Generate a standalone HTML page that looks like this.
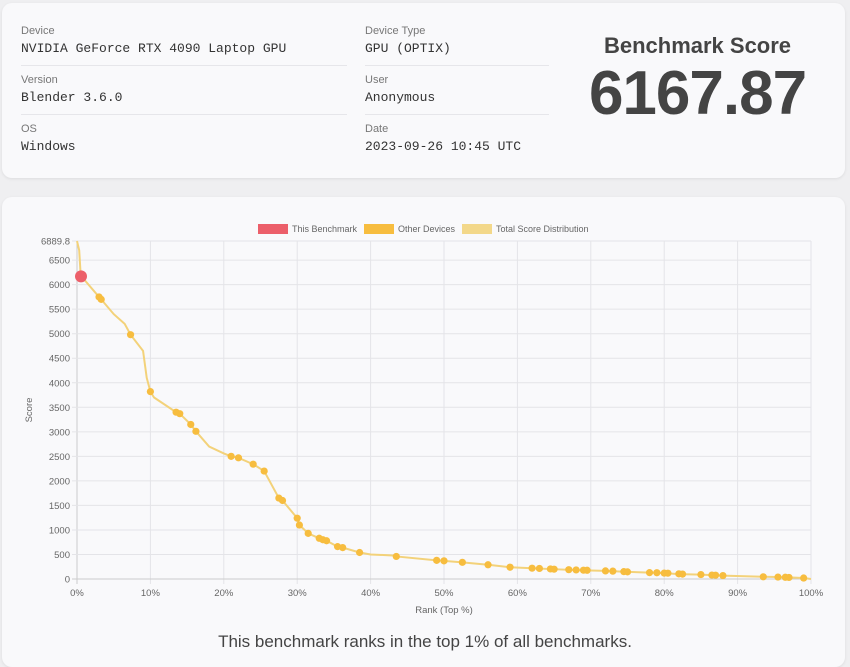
<!DOCTYPE html>
<html><head><meta charset="utf-8"><style>
html,body{margin:0;padding:0;width:850px;height:659px;overflow:hidden;background:#efeff1;font-family:"Liberation Sans",sans-serif}
.card{position:absolute;background:#f9f9fb;border-radius:10px;box-shadow:0 1px 3px rgba(0,0,0,.08)}
.lab{position:absolute;font-size:11px;color:#777}
.val{position:absolute;font-family:"Liberation Mono",monospace;font-size:13px;color:#333}
.sep{position:absolute;height:1px;background:#e6e6ea}
</style></head><body>
<div class="card" style="left:2px;top:3px;width:843px;height:175px"></div>
<div class="lab" style="left:21px;top:25px">Device</div>
<div class="val" style="left:21px;top:41px">NVIDIA GeForce RTX 4090 Laptop GPU</div>
<div class="sep" style="left:21px;top:65px;width:190px"></div>
<div class="sep" style="left:21px;top:65px;width:326px"></div>
<div class="lab" style="left:21px;top:74px">Version</div>
<div class="val" style="left:21px;top:90px">Blender 3.6.0</div>
<div class="sep" style="left:21px;top:114px;width:326px"></div>
<div class="lab" style="left:21px;top:123px">OS</div>
<div class="val" style="left:21px;top:139px">Windows</div>
<div class="lab" style="left:365px;top:25px">Device Type</div>
<div class="val" style="left:365px;top:41px">GPU (OPTIX)</div>
<div class="sep" style="left:365px;top:65px;width:184px"></div>
<div class="lab" style="left:365px;top:74px">User</div>
<div class="val" style="left:365px;top:90px">Anonymous</div>
<div class="sep" style="left:365px;top:114px;width:184px"></div>
<div class="lab" style="left:365px;top:123px">Date</div>
<div class="val" style="left:365px;top:139px">2023-09-26 10:45 UTC</div>
<div style="position:absolute;left:560px;width:275px;top:33px;text-align:center;font-size:22px;font-weight:bold;color:#444">Benchmark Score</div>
<div style="position:absolute;left:560px;width:275px;top:58px;text-align:center;font-size:62px;font-weight:bold;color:#444;letter-spacing:-1px">6167.87</div>
<div class="card" style="left:2px;top:197px;width:843px;height:470px"></div>
<svg id="c" width="850" height="659" style="position:absolute;left:0;top:0" font-family="Liberation Sans, sans-serif"></svg>
<div style="position:absolute;left:0;width:850px;top:632px;text-align:center;font-size:17px;color:#444">This benchmark ranks in the top 1% of all benchmarks.</div>
<script>
var X0=77,X1=811,Y0=579,YT=241,M=6889.8;
function px(p){return X0+(X1-X0)*p/100}function py(v){return Y0-(Y0-YT)*v/M}
var s='';
for(var i=0;i<=10;i++){var x=px(i*10);s+='<line x1="'+x+'" y1="'+YT+'" x2="'+x+'" y2="'+(Y0+5)+'" stroke="'+(i==0?'#ccc':'#e4e4e8')+'"/>';s+='<text x="'+x+'" y="596" font-size="9.5" fill="#666" text-anchor="middle">'+(i*10)+'%</text>';}
var yt=[0,500,1000,1500,2000,2500,3000,3500,4000,4500,5000,5500,6000,6500];
yt.forEach(function(v){var y=py(v);s+='<line x1="'+(X0-5)+'" y1="'+y+'" x2="'+X1+'" y2="'+y+'" stroke="'+(v==0?'#ccc':'#e4e4e8')+'"/>';s+='<text x="70" y="'+(y+3.5)+'" font-size="9.5" fill="#666" text-anchor="end">'+v+'</text>';});
s+='<line x1="'+(X0-5)+'" y1="'+YT+'" x2="'+X1+'" y2="'+YT+'" stroke="#e4e4e8"/><text x="70" y="244.5" font-size="9.5" fill="#666" text-anchor="end">6889.8</text>';
var d=[[0,6889],[0.3,6700],[0.5,6200],[1,6100],[3,5750],[3.3,5700],[5,5400],[6.5,5200],[7.3,4980],[9,4650],[9.5,4100],[10,3820],[10.5,3700],[13.5,3400],[14,3370],[15.5,3150],[16.2,3010],[18,2700],[20,2560],[21,2500],[22,2470],[24,2340],[25.5,2200],[27.5,1650],[28,1600],[30,1240],[30.3,1100],[31.5,930],[33,830],[33.5,800],[34,780],[35.5,660],[36.2,640],[38.5,540],[40,500],[43,480],[43.5,460],[49,380],[50,370],[52.5,340],[56,290],[59,240],[62,220],[65,200],[68,180],[72,165],[75,145],[78,130],[80,120],[82,100],[85,90],[86.5,80],[88,70],[93.5,45],[95.5,40],[96.5,35],[99,20],[100,0]];
s+='<polyline fill="none" stroke="#f3d27a" stroke-width="2" points="'+d.map(function(p){return px(p[0])+','+py(p[1])}).join(' ')+'"/>';
var dots=[[3,5750],[3.3,5700],[7.3,4980],[10,3820],[13.5,3400],[14,3370],[15.5,3150],[16.2,3010],[21,2500],[22,2470],[24,2340],[25.5,2200],[27.5,1650],[28,1600],[30,1240],[30.3,1100],[31.5,930],[33,830],[33.5,800],[34,780],[35.5,660],[36.2,640],[38.5,540],[43.5,460],[49,380],[50,370],[52.5,340],[56,290],[59,240],[62,220],[63,215],[64.5,205],[65,200],[67,190],[68,185],[69,180],[69.5,178],[72,165],[73,160],[74.5,150],[75,145],[78,130],[79,128],[80,120],[80.5,118],[82,105],[82.5,100],[85,90],[86.5,80],[87,78],[88,70],[93.5,45],[95.5,40],[96.5,35],[97,32],[99,20]];
dots.forEach(function(p){s+='<circle cx="'+px(p[0])+'" cy="'+py(p[1])+'" r="3.6" fill="#f7bd3f"/>'});
s+='<circle cx="81" cy="'+py(6167.87)+'" r="6" fill="#ec5f6a"/>';
s+='<rect x="258" y="224" width="30" height="10" fill="#ec5f6a"/><text x="292" y="232" font-size="9" fill="#666">This Benchmark</text>';
s+='<rect x="364" y="224" width="30" height="10" fill="#f7bd3f"/><text x="398" y="232" font-size="9" fill="#666">Other Devices</text>';
s+='<rect x="462" y="224" width="30" height="10" fill="#f3d88a"/><text x="496" y="232" font-size="9" fill="#666">Total Score Distribution</text>';
s+='<text x="444" y="613" font-size="9.5" fill="#666" text-anchor="middle">Rank (Top %)</text>';
s+='<text transform="translate(32,410) rotate(-90)" font-size="9.5" fill="#666" text-anchor="middle">Score</text>';
document.getElementById('c').innerHTML=s;
</script>
</body></html>
